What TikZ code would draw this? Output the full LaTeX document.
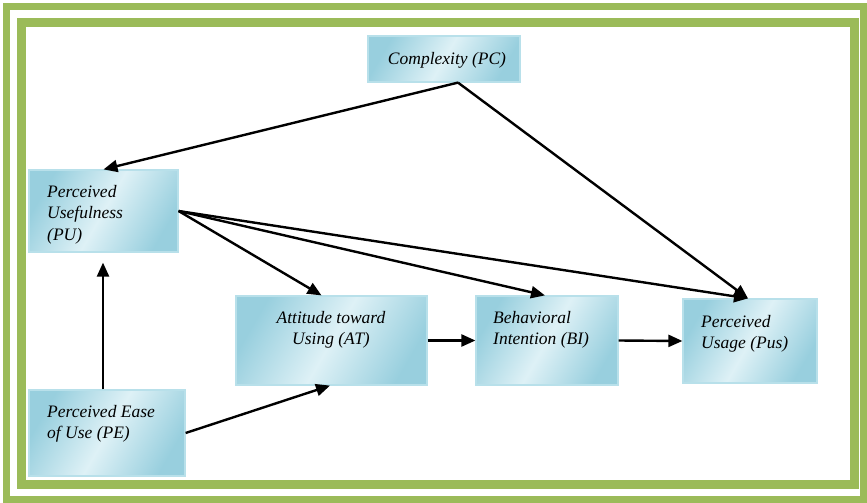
\documentclass[tikz,border=0pt]{standalone}
\usepackage{fontspec}
\setmainfont{Liberation Serif}
\usetikzlibrary{arrows.meta}
\definecolor{frameg}{RGB}{155,187,89}
\definecolor{boxdark}{RGB}{152,207,222}
\definecolor{boxlight}{RGB}{222,241,246}
\definecolor{boxedge}{RGB}{184,224,234}
\begin{document}
\begin{tikzpicture}[x=1pt,y=-1pt,
  box/.style={draw=boxedge, line width=1.2pt, left color=boxdark, right color=boxdark, middle color=boxlight, shading angle=60, inner sep=0pt},
  lbl/.style={font=\fontsize{17.5}{21.5}\selectfont\itshape, inner sep=0pt, align=left, anchor=north west},
  arr/.style={line width=2.4pt, -{Triangle[length=14pt,width=12pt]}},
  ]
\useasboundingbox (0,0) rectangle (867,503);
\fill[white] (0,0) rectangle (867,503);
\draw[frameg, line width=7pt] (6.5,6.5) rectangle (863.5,499.5);
\draw[frameg, line width=8.5pt] (21.5,22.5) rectangle (854.5,484.5);

\node[box, minimum width=152pt, minimum height=46pt] (pc) at (444,59) {};
\node[box, minimum width=149pt, minimum height=82pt] (pu) at (103.5,211) {};
\node[box, minimum width=156pt, minimum height=86pt] (pe) at (107,433) {};
\node[box, minimum width=191pt, minimum height=89pt] (at) at (331.5,340.5) {};
\node[box, minimum width=142pt, minimum height=89pt] (bi) at (547,340.5) {};
\node[box, minimum width=134pt, minimum height=84pt] (pus) at (750,341) {};

\node[lbl, anchor=base, align=center] (pct) at (447,65) {Complexity (PC)};
\node[lbl, anchor=base west] (put) at (47,240) {Perceived\\Usefulness\\(PU)};
\node[lbl, anchor=base west] (pet) at (47,438.5) {Perceived Ease\\of Use (PE)};
\node[lbl, anchor=base, align=center] (att) at (331,344.5) {Attitude toward\\Using (AT)};
\node[lbl, anchor=base west] (bit) at (493,344.5) {Behavioral\\Intention (BI)};
\node[lbl, anchor=base west] (pust) at (701,348.5) {Perceived\\Usage (Pus)};

\coordinate (pcs) at ([xshift=14pt]pc.south);
\draw[arr] (pcs) -- (pu.north);
\draw[arr] (pcs) -- ([xshift=-2pt]pus.north);
\draw[arr] (pu.east) -- ([xshift=-10pt]at.north);
\draw[arr] (pu.east) -- ([xshift=-2pt]bi.north);
\draw[arr] (pu.east) -- ([xshift=-2pt]pus.north);
\draw[arr] ([xshift=-4pt]pe.north) -- ([xshift=-0.5pt,yshift=-10pt]pu.south);
\draw[arr] (pe.east) -- ([xshift=-1.5pt]at.south);
\draw[arr] (at.east) -- (bi.west);
\draw[arr] (bi.east) -- (pus.west);
\end{tikzpicture}
\end{document}
